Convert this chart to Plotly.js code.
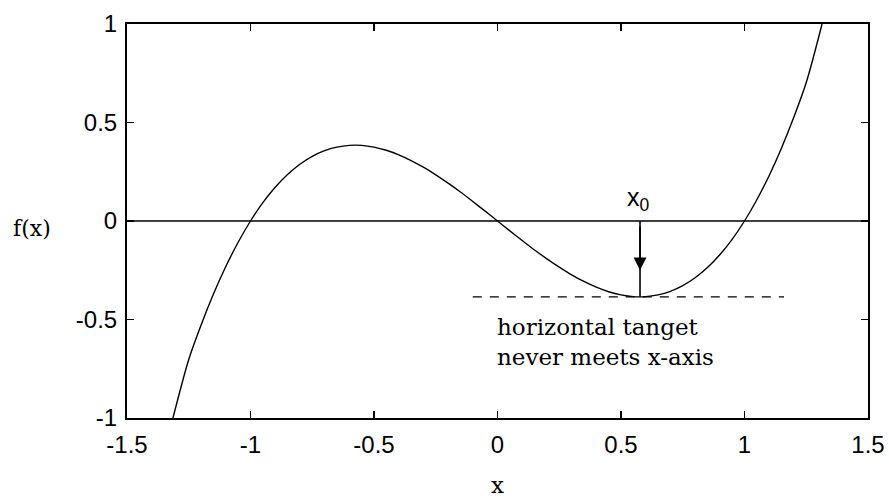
<!DOCTYPE html>
<html>
<head>
<meta charset="utf-8">
<script src="https://cdn.plot.ly/plotly-3.0.1.min.js"></script>
<style>
  html, body { margin: 0; padding: 0; background: #fff; }
  #chart { width: 889px; height: 500px; }
</style>
</head>
<body>
<div id="chart"></div>
<script>
// Sampled points of the cubic f(x)
const curveX = [-1.314, -1.25, -1.2, -1.15, -1.1, -1.05, -1.0, -0.95, -0.9, -0.85, -0.8, -0.75, -0.7, -0.65, -0.6, -0.55, -0.5, -0.45, -0.4, -0.35, -0.3, -0.25, -0.2, -0.15, -0.1, -0.05, 0.0, 0.05, 0.1, 0.15, 0.2, 0.25, 0.3, 0.35, 0.4, 0.45, 0.5, 0.55, 0.6, 0.65, 0.7, 0.75, 0.8, 0.85, 0.9, 0.95, 1.0, 1.05, 1.1, 1.15, 1.2, 1.25, 1.314];
const curveY = [-1.0, -0.703, -0.528, -0.371, -0.231, -0.108, 0.0, 0.093, 0.171, 0.236, 0.288, 0.328, 0.357, 0.375, 0.384, 0.384, 0.375, 0.359, 0.336, 0.307, 0.273, 0.234, 0.192, 0.147, 0.099, 0.050, 0.0, -0.050, -0.099, -0.147, -0.192, -0.234, -0.273, -0.307, -0.336, -0.359, -0.375, -0.384, -0.384, -0.375, -0.357, -0.328, -0.288, -0.236, -0.171, -0.093, 0.0, 0.108, 0.231, 0.371, 0.528, 0.703, 1.0];

// Location of the local minimum and the horizontal tangent through it
const x0 = 0.577;
const fMin = -0.385;
const tangentX = [-0.1, 1.16];
const tangentY = [fMin, fMin];

const xTicks = [-1.5, -1, -0.5, 0, 0.5, 1, 1.5];
const xTickText = ['-1.5', '-1', '-0.5', '0', '0.5', '1', '1.5'];
const yTicks = [-1, -0.5, 0, 0.5, 1];
const yTickText = ['-1', '-0.5', '0', '0.5', '1'];

const traces = [
  { // x-axis line y = 0
    x: [-1.5, 1.5], y: [0, 0], mode: 'lines',
    line: { color: '#000', width: 1.6 }, hoverinfo: 'skip'
  },
  { // the function
    x: curveX, y: curveY, mode: 'lines',
    line: { color: '#000', width: 1.4, shape: 'spline', smoothing: 0.8 }
  },
  { // horizontal tangent at the minimum
    x: tangentX, y: tangentY, mode: 'lines',
    line: { color: '#000', width: 1.4, dash: '9px,8px' }
  },
  { // vertical segment from x0 down to the minimum
    x: [x0, x0], y: [0, fMin], mode: 'lines',
    line: { color: '#000', width: 1.6 }
  }
];

const sans = 'Liberation Sans, Arial, sans-serif';
const serif = 'DejaVu Serif, Liberation Serif, serif';
const tickFont = { family: sans, size: 24, color: '#000' };

const layout = {
  width: 889, height: 500,
  margin: { l: 127, r: 21, t: 24, b: 82 },
  paper_bgcolor: '#fff', plot_bgcolor: '#fff',
  showlegend: false,
  xaxis: {
    range: [-1.5, 1.5], tickvals: xTicks, ticktext: xTickText,
    ticks: 'inside', ticklen: 7, tickwidth: 1.5, tickcolor: '#000',
    showline: true, linecolor: '#000', linewidth: 2, mirror: 'ticks',
    showgrid: false, zeroline: false, tickfont: tickFont, ticklabelstandoff: 4,
    title: { text: 'x', font: { family: serif, size: 23, color: '#000' }, standoff: 20 }
  },
  yaxis: {
    range: [-1, 1], tickvals: yTicks, ticktext: yTickText,
    ticks: 'inside', ticklen: 7, tickwidth: 1.5, tickcolor: '#000',
    showline: true, linecolor: '#000', linewidth: 2, mirror: 'ticks',
    showgrid: false, zeroline: false, tickfont: tickFont, ticklabelstandoff: 3
  },
  annotations: [
    { // arrow head on the vertical segment
      x: x0, y: -0.25, ax: x0, ay: -0.02, xref: 'x', yref: 'y', axref: 'x', ayref: 'y',
      showarrow: true, arrowhead: 2, arrowsize: 1.6, arrowwidth: 1.6, arrowcolor: '#000', text: ''
    },
    {
      x: x0 - 0.005, y: 0.02, xref: 'x', yref: 'y', xanchor: 'center', yanchor: 'bottom',
      text: 'x<sub>0</sub>', showarrow: false,
      font: { family: sans, size: 25, color: '#000' }
    },
    {
      x: -0.01, y: -0.46, xref: 'x', yref: 'y', xanchor: 'left', yanchor: 'top',
      align: 'left', showarrow: false,
      text: 'horizontal tanget<br>never meets x-axis',
      font: { family: serif, size: 23, color: '#000' }
    },
    {
      x: 0, y: 0, xref: 'paper', yref: 'paper', xanchor: 'center', yanchor: 'middle',
      showarrow: false, text: 'f(x)',
      font: { family: serif, size: 22, color: '#000' }
    }
  ]
};

// f(x) label placed in pixels, converted to paper coordinates
const plotW = 889 - 127 - 21, plotH = 500 - 24 - 82;
layout.annotations[3].x = (32 - 127) / plotW;
layout.annotations[3].y = (500 - 82 - 228) / plotH;

Plotly.newPlot('chart', traces, layout, { displayModeBar: false, staticPlot: true });
</script>
</body>
</html>
